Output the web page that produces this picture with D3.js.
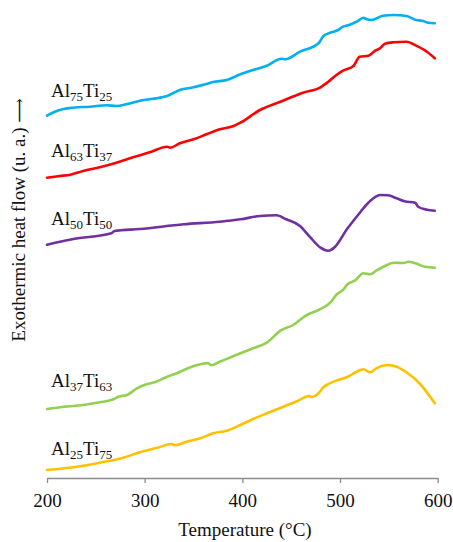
<!DOCTYPE html>
<html>
<head>
<meta charset="utf-8">
<script src="https://cdn.jsdelivr.net/npm/d3@7"></script>
<style>
  html, body { margin: 0; padding: 0; background: #fff; }
  svg { display: block; }
  svg text { font-family: "Liberation Serif", "DejaVu Serif", serif; }
</style>
</head>
<body>
<svg id="chart" width="453" height="542"></svg>
<script>
// DSC traces of Al–Ti compositions: exothermic heat flow (arbitrary units, offset for clarity)
const xTicks = [200, 300, 400, 500, 600];

const tAl75Ti25 = [200, 208, 217, 227, 244, 261, 271, 282, 295, 314, 323, 336, 350, 363, 370, 384, 398, 411, 425, 440, 444, 459, 478, 483, 490, 498, 503, 510, 517, 524, 527, 532, 544, 555, 568, 578, 584, 590, 597];
const vAl75Ti25 = [36.23, 36.63, 36.9, 37.03, 37.13, 37.27, 37.2, 37.4, 37.73, 38.0, 38.2, 38.8, 39.07, 39.4, 39.6, 39.8, 40.37, 40.8, 41.23, 41.93, 41.87, 42.63, 43.47, 44.2, 44.53, 44.8, 45.13, 45.33, 45.63, 46.03, 45.9, 45.8, 46.23, 46.3, 46.2, 45.8, 45.73, 45.53, 45.47];

const tAl63Ti37 = [200, 213, 224, 237, 254, 271, 288, 305, 323, 326, 336, 350, 364, 377, 391, 398, 418, 439, 462, 480, 488, 495, 503, 514, 520, 529, 536, 541, 546, 555, 568, 578, 589, 597];
const vAl63Ti37 = [30.03, 30.2, 30.33, 30.7, 31.07, 31.53, 32.07, 32.57, 33.13, 33.03, 33.47, 33.87, 34.4, 34.87, 35.2, 35.53, 36.8, 37.63, 38.53, 39.07, 39.63, 40.2, 40.73, 41.23, 42.13, 42.23, 42.73, 42.97, 43.43, 43.57, 43.63, 43.23, 42.63, 41.97];

const tAl50Ti50 = [200, 227, 266, 269, 295, 340, 377, 398, 418, 435, 445, 459, 469, 480, 488, 495, 507, 519, 529, 541, 549, 558, 566, 577, 580, 589, 597];
const vAl50Ti50 = [23.33, 23.9, 24.47, 24.7, 24.9, 25.37, 25.63, 25.87, 26.2, 26.27, 25.87, 25.2, 24.13, 23.03, 22.73, 23.13, 24.87, 26.37, 27.53, 28.3, 28.27, 27.97, 27.67, 27.53, 27.13, 26.83, 26.73];

const tAl37Ti63 = [200, 217, 237, 254, 268, 273, 282, 292, 302, 311, 323, 333, 343, 357, 365, 368, 377, 391, 398, 411, 425, 439, 452, 466, 478, 490, 497, 503, 508, 515, 524, 531, 537, 546, 555, 565, 570, 577, 587, 597];
const vAl37Ti63 = [6.9, 7.13, 7.3, 7.57, 7.87, 8.13, 8.3, 8.97, 9.37, 9.6, 10.13, 10.47, 10.93, 11.37, 11.5, 11.27, 11.63, 12.2, 12.47, 12.97, 13.53, 14.73, 15.3, 16.3, 16.8, 17.53, 18.4, 18.8, 19.4, 19.73, 20.47, 20.37, 20.73, 21.2, 21.53, 21.5, 21.63, 21.47, 21.13, 21.03];

const tAl25Ti75 = [200, 220, 237, 254, 278, 295, 312, 328, 331, 343, 357, 370, 384, 398, 411, 425, 442, 457, 468, 471, 478, 483, 488, 498, 508, 517, 524, 531, 537, 549, 558, 568, 582, 597];
const vAl25Ti75 = [0.8, 1.0, 1.23, 1.53, 2.03, 2.57, 3.0, 3.4, 3.27, 3.63, 3.97, 4.47, 4.73, 5.3, 5.9, 6.47, 7.13, 7.73, 8.2, 8.1, 8.47, 9.07, 9.4, 9.8, 10.13, 10.63, 10.87, 10.57, 10.97, 11.3, 11.13, 10.57, 9.4, 7.47];

// Series name parts: [element, subscript, element, subscript]
const seriesNames = [
  ["Al", "75", "Ti", "25"],
  ["Al", "63", "Ti", "37"],
  ["Al", "50", "Ti", "50"],
  ["Al", "37", "Ti", "63"],
  ["Al", "25", "Ti", "75"]
];
const seriesColors = ["#00b0f0", "#ff0000", "#7030a0", "#92d050", "#ffc000"];
const seriesT = [tAl75Ti25, tAl63Ti37, tAl50Ti50, tAl37Ti63, tAl25Ti75];
const seriesV = [vAl75Ti25, vAl63Ti37, vAl50Ti50, vAl37Ti63, vAl25Ti75];
// baseline position of each series label, in heat-flow units
const labelLevels = [38.1, 32.1, 25.3, 9.1, 2.3];

const svg = d3.select("#chart");
const x = d3.scaleLinear().domain([200, 600]).range([47, 437.7]);
const y = d3.scaleLinear().domain([0, 46]).range([478, 18]);

// x axis
const xAxis = d3.axisBottom(x).tickValues(xTicks).tickSize(5).tickSizeOuter(0);
const gx = svg.append("g").attr("transform", "translate(0,478)").call(xAxis)
  .attr("font-family", "Liberation Serif, serif")
  .attr("font-size", 19);
gx.select(".domain").attr("stroke", "#8c8c8c").attr("stroke-width", 1.3);
gx.selectAll(".tick line").attr("stroke", "#8c8c8c").attr("stroke-width", 1.3);
gx.selectAll(".tick text")
  .attr("y", 28.5).attr("dy", 0)
  .attr("fill", "#111")
  .style("font-size", "19px");

// traces
const line = d3.line()
  .x(d => x(d[0]))
  .y(d => y(d[1]))
  .curve(d3.curveMonotoneX);

seriesT.forEach((ts, i) => {
  const pts = ts.map((t, j) => [t, seriesV[i][j]]);
  svg.append("path")
    .datum(pts)
    .attr("fill", "none")
    .attr("stroke", seriesColors[i])
    .attr("stroke-width", 2.6)
    .attr("stroke-linejoin", "round")
    .attr("stroke-linecap", "round")
    .attr("d", line);
});

// series labels with subscripts
seriesNames.forEach((parts, i) => {
  const t = svg.append("text")
    .attr("x", 51)
    .attr("y", y(labelLevels[i]))
    .attr("fill", "#111")
    .style("font-size", "19px");
  parts.forEach((p, k) => {
    const sub = k % 2 === 1;
    t.append("tspan")
      .attr("dy", sub ? 4 : (k === 0 ? 0 : -4))
      .style("font-size", sub ? "13px" : "19px")
      .text(p);
  });
});

// axis titles
svg.append("text")
  .attr("x", 245)
  .attr("y", 536)
  .attr("text-anchor", "middle")
  .attr("fill", "#111")
  .style("font-size", "19px")
  .text("Temperature (\u00B0C)");

const yTitle = svg.append("text")
  .attr("transform", "translate(25,220) rotate(-90)")
  .attr("text-anchor", "middle")
  .attr("fill", "#111")
  .style("font-size", "19px");
yTitle.append("tspan").text("Exothermic heat flow (u. a.) ");
yTitle.append("tspan").style("font-family", "DejaVu Serif, serif").style("font-size", "17px").text("\u27F6");
</script>
</body>
</html>
